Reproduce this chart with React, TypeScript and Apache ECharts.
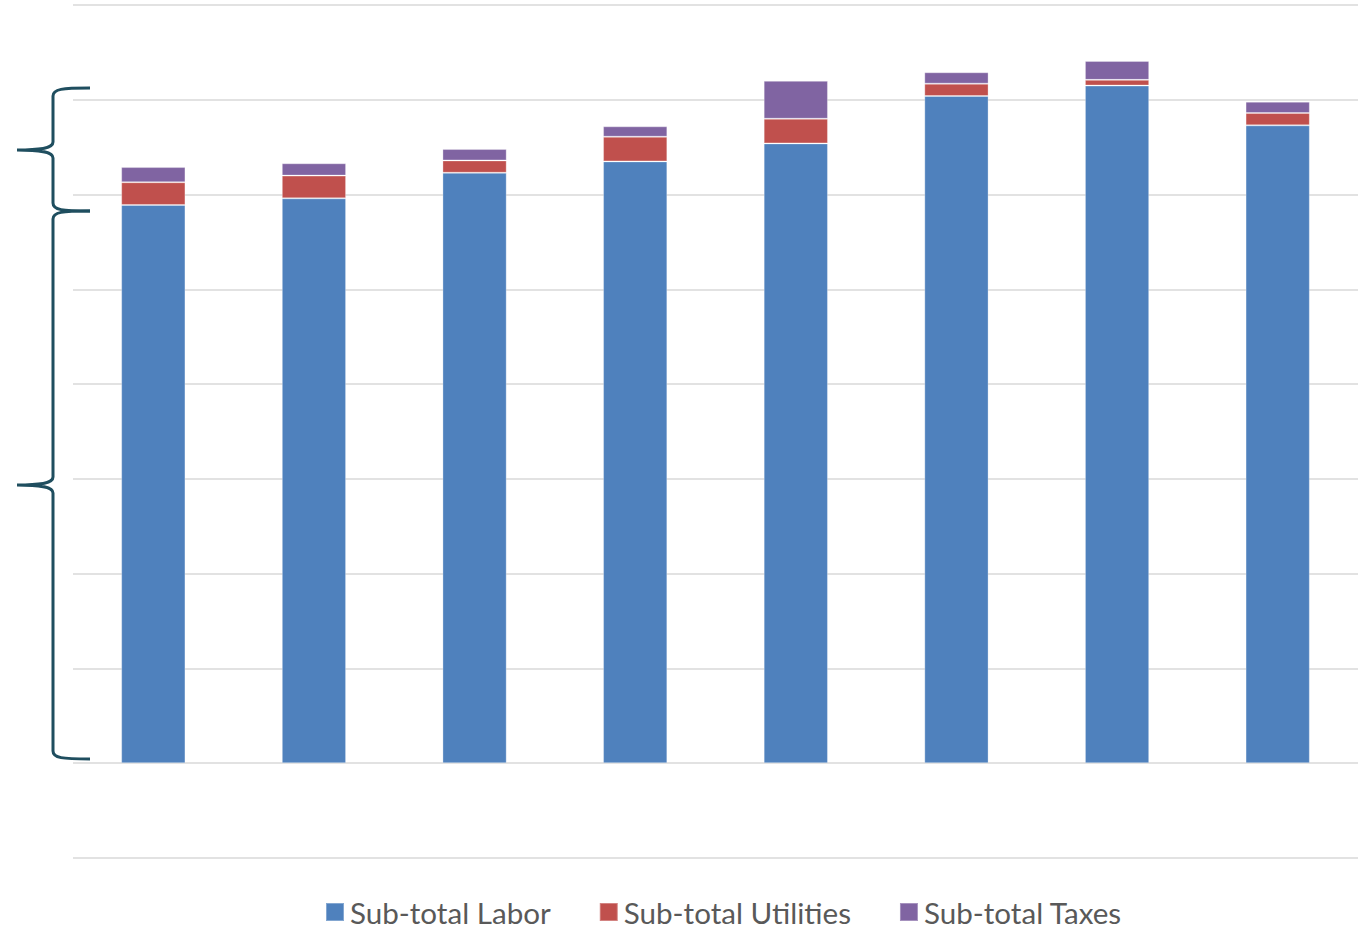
import React, { useEffect, useRef } from "react";
import * as echarts from "echarts";

const categories = ["1", "2", "3", "4", "5", "6", "7", "8"];
const labor = [5.89, 5.96, 6.23, 6.35, 6.54, 7.04, 7.15, 6.73];
const utilities = [0.24, 0.24, 0.13, 0.26, 0.26, 0.13, 0.06, 0.13];
const taxes = [0.16, 0.13, 0.12, 0.11, 0.4, 0.12, 0.2, 0.12];
const seriesNames = ["Sub-total Labor", "Sub-total Utilities", "Sub-total Taxes"];
const colors = ["#4F81BD", "#C0504D", "#8064A2"];

function bracePath(y0: number, yt: number, y1: number) {
  const sx = 53, ex = 90, tx = 17;
  return `M ${ex} ${y0} C ${62} ${y0}, ${sx} ${y0 + 1}, ${sx} ${y0 + 8} L ${sx} ${yt - 8} C ${sx} ${yt - 2}, ${42} ${yt}, ${tx} ${yt} C ${42} ${yt}, ${sx} ${yt + 2}, ${sx} ${yt + 8} L ${sx} ${y1 - 8} C ${sx} ${y1 - 1}, ${62} ${y1}, ${ex} ${y1}`;
}

echarts.graphic.registerShape("brace1", echarts.graphic.extendPath(bracePath(88, 150, 211), {}) as any);
echarts.graphic.registerShape("brace2", echarts.graphic.extendPath(bracePath(211, 485, 759), {}) as any);

export default function App() {
  const ref = useRef<HTMLDivElement>(null);
  useEffect(() => {
    const chart = echarts.init(ref.current!, null, { renderer: "svg" });
    const data = [labor, utilities, taxes];
    chart.setOption({
      animation: false,
      grid: { left: 73, right: 7, top: 5, bottom: 69, containLabel: false },
      xAxis: {
        type: "category",
        data: categories,
        axisLine: { show: false },
        axisTick: { show: false },
        axisLabel: { show: false },
      },
      yAxis: {
        type: "value",
        min: -1,
        max: 8,
        interval: 1,
        axisLabel: { show: false },
        axisLine: { show: false },
        axisTick: { show: false },
        splitLine: { lineStyle: { color: "#d9d9d9", width: 1.5 } },
      },
      legend: {
        top: 897,
        left: 325,
        padding: 0,
        itemWidth: 18,
        itemHeight: 18,
        itemGap: 48,
        icon: "rect",
        textStyle: { fontFamily: "Lato", fontSize: 29.6, lineHeight: 26, color: "#595959", padding: [0, 0, 0, 1] },
        data: seriesNames,
      },
      series: seriesNames.map((name, i) => ({
        name,
        type: "bar",
        stack: "total",
        barWidth: "40%",
        data: data[i],
        itemStyle: { color: colors[i], borderColor: "rgba(255,255,255,0.3)", borderWidth: 1 },
      })),
      graphic: [
        { type: "brace1", x: 0, y: 0, style: { fill: "none", stroke: "#1F4E5F", lineWidth: 3 } },
        { type: "brace2", x: 0, y: 0, style: { fill: "none", stroke: "#1F4E5F", lineWidth: 3 } },
      ],
    });
    return () => chart.dispose();
  }, []);
  return (
    <div
      ref={ref}
      style={{ position: "fixed", left: 0, top: 0, width: 1365, height: 927, background: "#fff" }}
    />
  );
}
